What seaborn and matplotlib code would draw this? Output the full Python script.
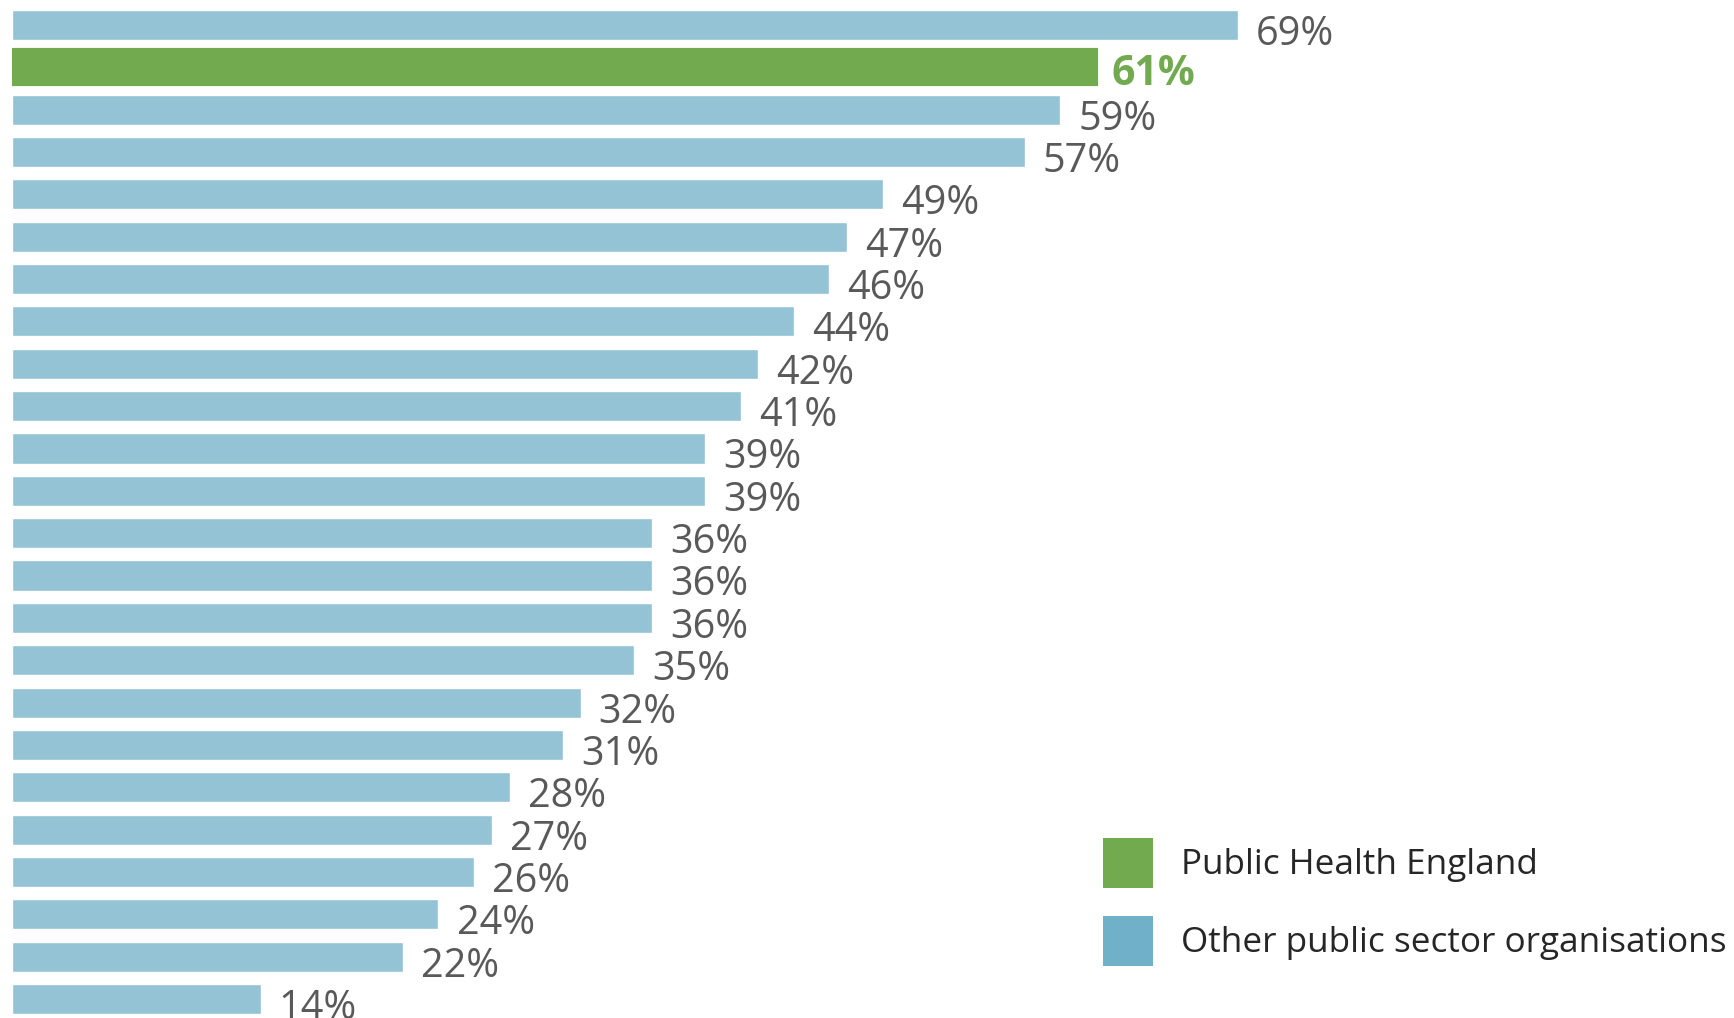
import matplotlib
matplotlib.use("Agg")
import matplotlib.pyplot as plt
import seaborn as sns
import pandas as pd
from matplotlib.patches import Patch

organisations = ["Organisation %d" % i for i in range(1, 25)]
organisations[1] = "Public Health England"
values = [69, 61, 59, 57, 49, 47, 46, 44, 42, 41, 39, 39, 36, 36, 36, 35, 32, 31, 28, 27, 26, 24, 22, 14]
groups = ["Other public sector organisations"] * 24
groups[1] = "Public Health England"

BLUE = "#93C3D5"
BLUE_LEG = "#70B0C8"
GREEN = "#72AB4F"
GREY = "#595959"

df = pd.DataFrame({"org": organisations, "value": values, "group": groups})

sns.set_theme(style="white")
plt.rcParams["font.family"] = ["Open Sans", "Noto Sans", "DejaVu Sans"]

W, H = 1734, 1018
fig = plt.figure(figsize=(W / 100, H / 100), dpi=100)
ax = fig.add_axes([12 / W, 0, 1 - 12 / W, 1])

others = df[df.group != "Public Health England"]
phe = df[df.group == "Public Health England"]
sns.barplot(data=others, y="org", x="value", order=organisations, orient="h",
            width=0.71, color=BLUE, saturation=1, ax=ax)
sns.barplot(data=phe, y="org", x="value", order=organisations, orient="h",
            width=0.8, color=GREEN, saturation=1, ax=ax,
            edgecolor=GREEN, linewidth=3)

ax.set_xlim(0, (W - 12) / 17.77)
ax.set_ylim(23 + (1018 - 999) / 42.35, -25 / 42.35)
ax.axis("off")

for i, (v, g) in enumerate(zip(values, groups)):
    if g == "Public Health England":
        ax.annotate(f"{v}%", (v, i), xytext=(11, -5), textcoords="offset points",
                    ha="left", va="center", fontsize=29.5, color=GREEN, fontweight="bold")
    else:
        ax.annotate(f"{v}%", (v, i), xytext=(13, -7), textcoords="offset points",
                    ha="left", va="center", fontsize=28.5, color=GREY)

handles = [Patch(facecolor=GREEN, edgecolor="none", label="Public Health England"),
           Patch(facecolor=BLUE_LEG, edgecolor="none", label="Other public sector organisations")]
fig.legend(handles=handles, loc="upper left", bbox_to_anchor=(1103 / W, 1 - 838 / H),
           frameon=False, fontsize=25.3, handlelength=1.42, handleheight=1.8,
           handletextpad=0.8, labelspacing=0.8, borderpad=0, borderaxespad=0,
           labelcolor="#262626")

fig.savefig("out.png", dpi=100)
